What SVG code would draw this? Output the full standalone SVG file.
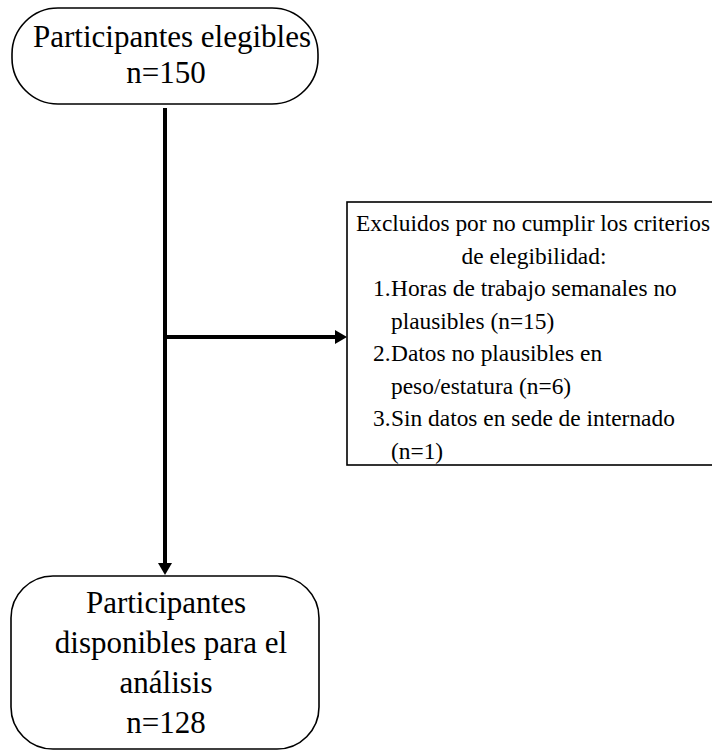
<svg xmlns="http://www.w3.org/2000/svg" width="712" height="751" viewBox="0 0 712 751">
<style>
.box{fill:#fff;stroke:#000;stroke-width:1.6}
text{font-family:'Liberation Serif',serif;fill:#000}
.big{font-size:31px;text-anchor:middle}
.sm{font-size:23.4px}
.ln{stroke:#000;stroke-width:4;fill:none}
</style>
<defs>
<marker id="ah" viewBox="0 0 12 14" refX="6" refY="7" markerWidth="12" markerHeight="14" orient="auto" markerUnits="userSpaceOnUse">
<path d="M0,0 L12,7 L0,14 z" fill="#000"/>
</marker>
</defs>
<rect width="712" height="751" fill="#fff"/>
<g id="connectors">
<line class="ln" x1="165" y1="108" x2="165" y2="569" marker-end="url(#ah)"/>
<line class="ln" x1="165" y1="337" x2="341" y2="337" marker-end="url(#ah)"/>
</g>
<g id="n1" font-family="Liberation Serif, serif">
<rect class="box" x="12" y="8" width="306" height="96" rx="46" ry="46"/>
<text class="big" x="172" y="47">Participantes elegibles</text>
<text class="big" x="166" y="83">n=150</text>
</g>
<g id="n2" font-family="Liberation Serif, serif">
<rect class="box" x="347" y="202" width="380" height="263"/>
<text class="sm" x="356" y="231">Excluidos por no cumplir los criterios</text>
<text class="sm" x="534" y="263.5" text-anchor="middle">de elegibilidad:</text>
<text class="sm" x="373" y="296">1.</text><text class="sm" x="391" y="296">Horas de trabajo semanales no</text>
<text class="sm" x="391" y="328.5">plausibles (n=15)</text>
<text class="sm" x="373" y="361">2.</text><text class="sm" x="391" y="361">Datos no plausibles en</text>
<text class="sm" x="391" y="393.5">peso/estatura (n=6)</text>
<text class="sm" x="373" y="426">3.</text><text class="sm" x="391" y="426">Sin datos en sede de internado</text>
<text class="sm" x="391" y="458.5">(n=1)</text>
</g>
<g id="n3" font-family="Liberation Serif, serif">
<rect class="box" x="11" y="576" width="308" height="173" rx="42" ry="42"/>
<text class="big" x="166" y="613">Participantes</text>
<text class="big" x="171" y="653">disponibles para el</text>
<text class="big" x="166" y="693">análisis</text>
<text class="big" x="166" y="733">n=128</text>
</g>
</svg>
